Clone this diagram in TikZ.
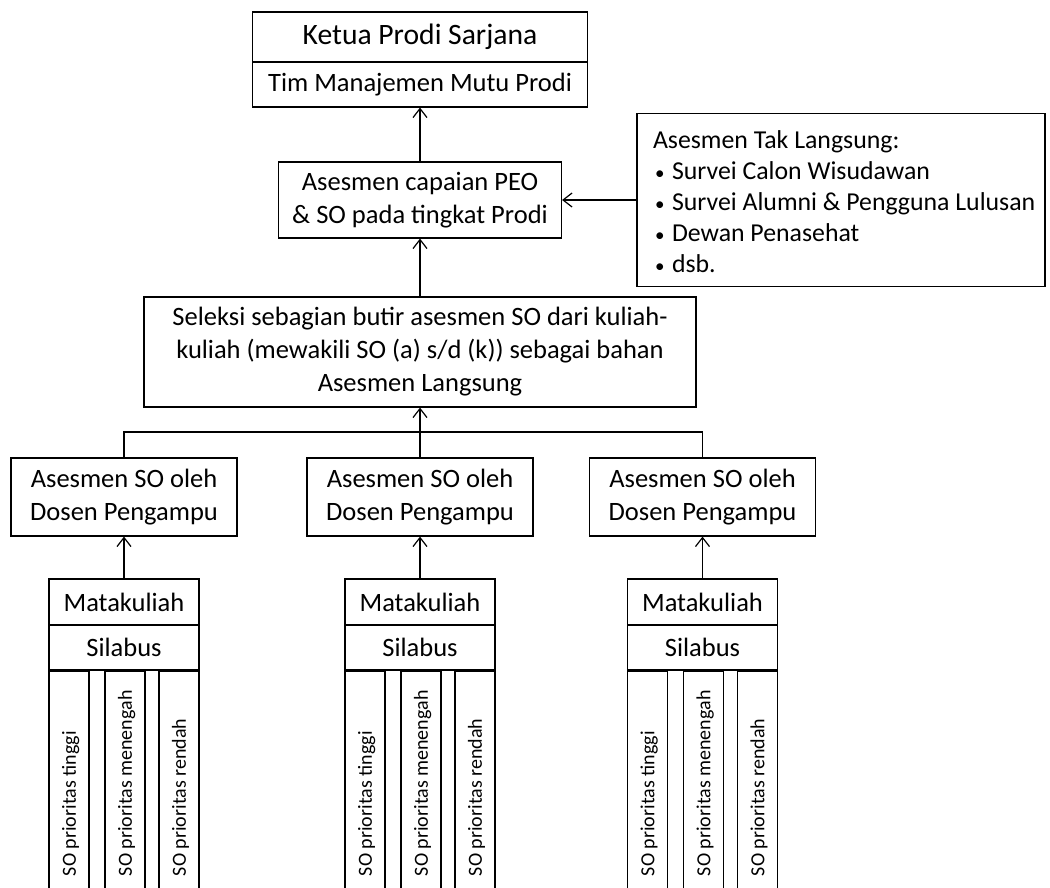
\documentclass[tikz,border=0pt]{standalone}
\usepackage{fontspec}
\setmainfont{Carlito}
\usetikzlibrary{arrows.meta}
\newcommand\mybul{\makebox[19pt][l]{\hspace{2pt}\fontsize{19}{19}\selectfont •}}
\begin{document}
\begin{tikzpicture}[x=1pt,y=-1pt, line width=1.2pt,
 box/.style={draw, rectangle, inner sep=0pt, align=center, font=\fontsize{26.5}{33}\selectfont},
 col/.style={draw, rectangle, inner sep=0pt, minimum width=40pt, minimum height=230pt, anchor=north west},
 arr/.style={-{Straight Barb[length=9pt,width=14pt,line width=1.2pt]}},
 rot/.style={rotate=90, anchor=base west, inner sep=0pt, font=\fontsize{20}{20}\selectfont}]
\useasboundingbox (0,0) rectangle (1050,888);

\node[box, minimum width=335pt, minimum height=50pt, font=\fontsize{29.6}{33}\selectfont] (ketua) at (420,37) {Ketua Prodi Sarjana};
\node[box, minimum width=335pt, minimum height=45pt] (tim) at (420,84.5) {Tim Manajemen Mutu Prodi};

\node[box, minimum width=283pt, minimum height=76pt] (peo) at (420,200) {Asesmen capaian PEO\\ \& SO pada tingkat Prodi};

\node[box, minimum width=408pt, minimum height=173pt] (tak) at (841,200) {};
\node[anchor=west, inner sep=0pt, align=left, font=\fontsize{25.8}{31}\selectfont] (taktext) at ([xshift=16pt,yshift=-2pt]tak.west) {Asesmen Tak Langsung:\\\mybul Survei Calon Wisudawan\\\mybul Survei Alumni \& Pengguna Lulusan\\\mybul Dewan Penasehat\\\mybul dsb.};

\node[box, minimum width=552pt, minimum height=110pt] (sel) at (420,352) {Seleksi sebagian butir asesmen SO dari kuliah-\\kuliah (mewakili SO (a) s/d (k)) sebagai bahan\\Asesmen Langsung};

\node[box, minimum width=226pt, minimum height=78pt] (a1) at (124,497) {Asesmen SO oleh\\Dosen Pengampu};
\node[box, minimum width=226pt, minimum height=78pt] (a2) at (420,497) {Asesmen SO oleh\\Dosen Pengampu};
\node[box, minimum width=226pt, minimum height=78pt] (a3) at (702.5,497) {Asesmen SO oleh\\Dosen Pengampu};

\coordinate (j) at (420,432);

\foreach \i/\cx in {1/124, 2/420, 3/702.5}{
  \node[box, minimum width=150pt, minimum height=46pt] (m\i) at (\cx,602) {Matakuliah};
  \node[box, minimum width=150pt, minimum height=45pt] (s\i) at (\cx,647.5) {Silabus};
  \node[col] (c\i a) at ([xshift=0pt]s\i.south west) {};
  \node[col] (c\i b) at ([xshift=56pt]s\i.south west) {};
  \node[col] (c\i c) at ([xshift=110pt]s\i.south west) {};
  \node[rot] at ([xshift=27.5pt,yshift=-206pt]s\i.south west) {SO prioritas tinggi};
  \node[rot] at ([xshift=83.5pt,yshift=-206pt]s\i.south west) {SO prioritas menengah};
  \node[rot] at ([xshift=137.5pt,yshift=-206pt]s\i.south west) {SO prioritas rendah};
  \draw[arr] (m\i.north) -- (a\i.south);
}

\draw[arr] (tim.south |- peo.north) -- (tim.south);
\draw[arr] (tak.west) -- (peo.east);
\draw[arr] (sel.north) -- (peo.south);
\draw[arr] (a2.north) -- (sel.south);
\draw (a1.north) |- (j) -| (a3.north);
\end{tikzpicture}
\end{document}
